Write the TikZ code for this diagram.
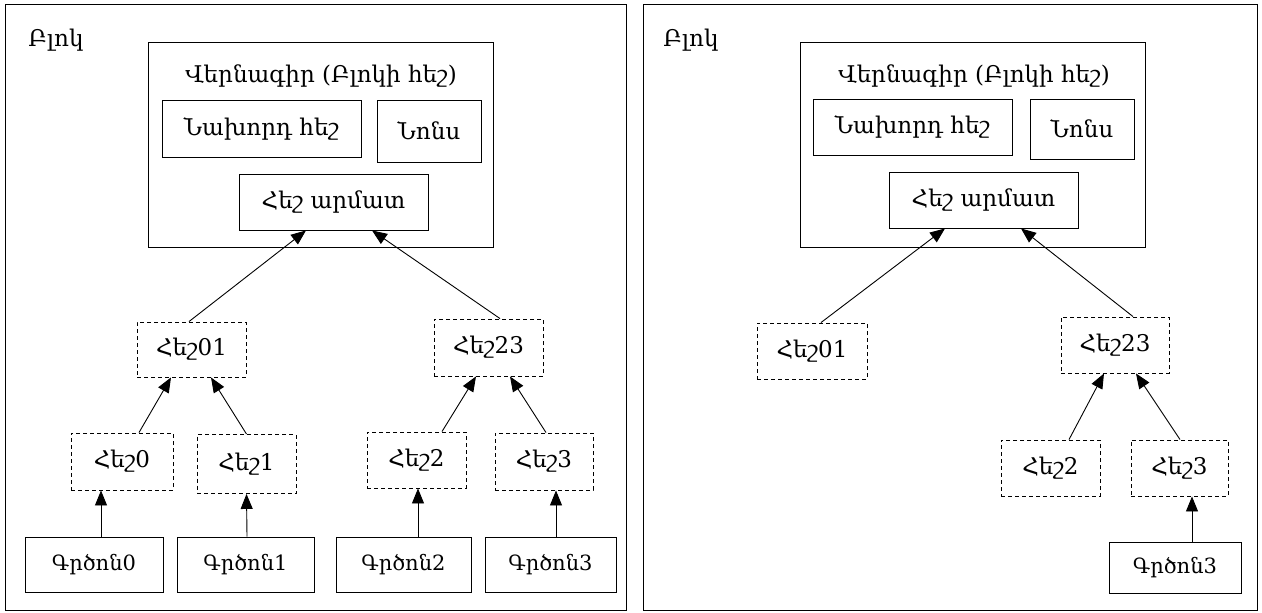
\documentclass[tikz,border=0pt]{standalone}
\usepackage{fontspec}
\usepackage{tikz}
\usetikzlibrary{arrows.meta}
\newfontfamily\hyfont{DejaVu Serif}
\definecolor{frame}{HTML}{000000}
\tikzset{
  blockframe/.style={
    draw=frame,
    line width=0.9pt,
    inner sep=0pt
  },
  fieldbox/.style={
    draw=frame,
    line width=0.9pt,
    inner sep=0pt,
    align=center,
    font=\hyfont\fontsize{23}{27}\selectfont
  },
  hashbox/.style={fieldbox, dash pattern=on 4pt off 3pt},
  txbox/.style={fieldbox, font=\hyfont\fontsize{21}{25}\selectfont},
  caption/.style={font=\hyfont\fontsize{23}{27}\selectfont, inner sep=0pt},
  treeedge/.style={line width=0.9pt, draw=frame, -{Triangle[length=15pt,width=12pt]}}
}

\begin{document}
\begin{tikzpicture}[x=1pt,y=-1pt]
\path[use as bounding box] (0,0) rectangle (1262,613);
\fill[white] (0,0) rectangle (1262,613);

% left block: full tree
\node[blockframe, minimum width=621pt, minimum height=606pt] (blockL) at (315.5,307) {};
\node[caption] (labelL) at (56,40) {Բլոկ};
\node[blockframe, minimum width=345pt, minimum height=205pt] (headL) at (320.5,144.5) {};
\node[caption] (titleL) at (321,76) {Վերնագիր (Բլոկի հեշ)};
\node[fieldbox, minimum width=199pt, minimum height=57pt] (prevL) at (261.5,128.5) {Նախորդ հեշ};
\node[fieldbox, minimum width=104pt, minimum height=62pt] (nonceL) at (429,131) {Նոնս};
\node[fieldbox, minimum width=189pt, minimum height=56pt] (rootL) at (333.5,202) {Հեշ արմատ};

\node[hashbox, minimum width=109pt, minimum height=55pt] (h01L) at (191.5,349.5) {Հեշ01};
\node[hashbox, minimum width=109pt, minimum height=57pt] (h23L) at (488.5,347.5) {Հեշ23};
\node[hashbox, minimum width=102pt, minimum height=57pt] (h0L) at (122,461.5) {Հեշ0};
\node[hashbox, minimum width=99pt, minimum height=59pt] (h1L) at (246.5,464) {Հեշ1};
\node[hashbox, minimum width=99pt, minimum height=56pt] (h2L) at (416.5,460) {Հեշ2};
\node[hashbox, minimum width=98pt, minimum height=57pt] (h3L) at (544,461.5) {Հեշ3};

\node[txbox, minimum width=138pt, minimum height=55pt] (tx0L) at (94,564.5) {Գրծոն0};
\node[txbox, minimum width=137pt, minimum height=55pt] (tx1L) at (245.5,564.5) {Գրծոն1};
\node[txbox, minimum width=135pt, minimum height=55pt] (tx2L) at (403.5,564.5) {Գրծոն2};
\node[txbox, minimum width=131pt, minimum height=55pt] (tx3L) at (550.5,564.5) {Գրծոն3};

\draw[treeedge] ([xshift=7pt]tx0L.north) -- ([xshift=-21pt]h0L.south);
\draw[treeedge] ([xshift=1.5pt]tx1L.north) -- (h1L.south);
\draw[treeedge] ([xshift=14.5pt]tx2L.north) -- ([xshift=1.5pt]h2L.south);
\draw[treeedge] ([xshift=5.5pt]tx3L.north) -- ([xshift=12pt]h3L.south);
\draw[treeedge] ([xshift=17pt]h0L.north) -- ([xshift=-20.5pt]h01L.south);
\draw[treeedge] (h1L.north) -- ([xshift=19.5pt]h01L.south);
\draw[treeedge] ([xshift=25.5pt]h2L.north) -- ([xshift=-12.5pt]h23L.south);
\draw[treeedge] ([xshift=2pt]h3L.north) -- ([xshift=21.5pt]h23L.south);
\draw[treeedge] ([xshift=-2.5pt]h01L.north) -- ([xshift=-27.5pt]rootL.south);
\draw[treeedge] ([xshift=11.5pt]h23L.north) -- ([xshift=38.5pt]rootL.south);

% right block: pruned tree
\node[blockframe, minimum width=614pt, minimum height=606pt] (blockR) at (950,307) {};
\node[caption] (labelR) at (691,40) {Բլոկ};
\node[blockframe, minimum width=345pt, minimum height=205pt] (headR) at (972.5,144.5) {};
\node[caption] (titleR) at (974,76) {Վերնագիր (Բլոկի հեշ)};
\node[fieldbox, minimum width=199pt, minimum height=56pt] (prevR) at (912.5,127) {Նախորդ հեշ};
\node[fieldbox, minimum width=104pt, minimum height=60pt] (nonceR) at (1082,129) {Նոնս};
\node[fieldbox, minimum width=189pt, minimum height=56pt] (rootR) at (983.5,200) {Հեշ արմատ};

\node[hashbox, minimum width=110pt, minimum height=56pt] (h01R) at (812,351) {Հեշ01};
\node[hashbox, minimum width=108pt, minimum height=56pt] (h23R) at (1115,345) {Հեշ23};
\node[hashbox, minimum width=99pt, minimum height=56pt] (h2R) at (1050.5,468) {Հեշ2};
\node[hashbox, minimum width=97pt, minimum height=56pt] (h3R) at (1179.5,468) {Հեշ3};
\node[txbox, minimum width=132pt, minimum height=51pt] (tx3R) at (1175,567.5) {Գրծոն3};

\draw[treeedge] ([xshift=17pt]tx3R.north) -- ([xshift=12.5pt]h3R.south);
\draw[treeedge] ([xshift=18.5pt]h2R.north) -- ([xshift=-11pt]h23R.south);
\draw[treeedge] ([xshift=0.5pt]h3R.north) -- ([xshift=21pt]h23R.south);
\draw[treeedge] ([xshift=9pt]h01R.north) -- ([xshift=-38.5pt]rootR.south);
\draw[treeedge] ([xshift=18pt]h23R.north) -- ([xshift=37.5pt]rootR.south);

\end{tikzpicture}
\end{document}
